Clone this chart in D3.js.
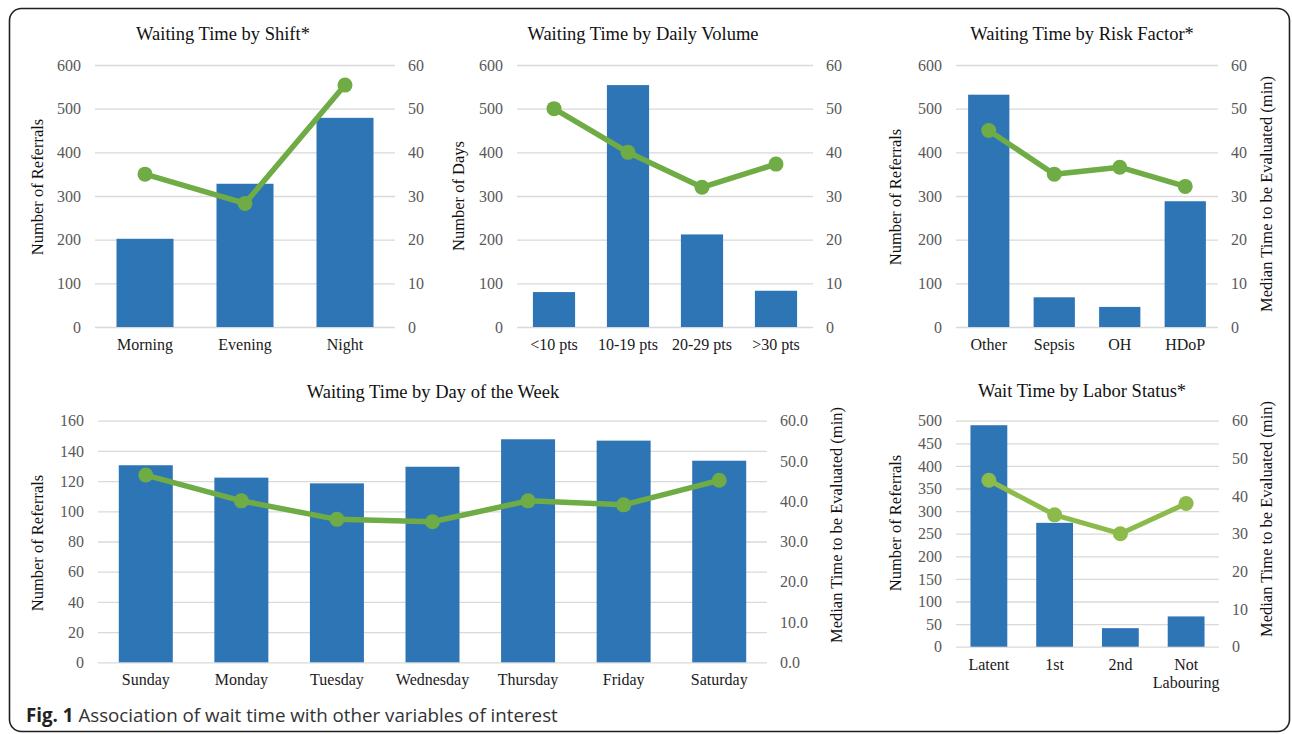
<!DOCTYPE html>
<html><head><meta charset="utf-8">
<script src="https://cdn.jsdelivr.net/npm/d3@7"></script>
<style>
html,body{margin:0;padding:0;background:#fff;}
svg{display:block;}
</style></head>
<body>
<svg id="c" width="1292" height="734"></svg>
<script>
// ---- data ----
const shiftCats = ["Morning","Evening","Night"];
const shiftCounts = [202, 328, 479];
const shiftMedian = [35, 28.3, 55.4];

const volumeCats = ["<10 pts","10-19 pts","20-29 pts",">30 pts"];
const volumeDays = [80, 554, 212, 83];
const volumeMedian = [50, 40, 32, 37.3];

const riskCats = ["Other","Sepsis","OH","HDoP"];
const riskCounts = [532, 68, 46, 288];
const riskMedian = [45, 35, 36.6, 32.2];

const dayCats = ["Sunday","Monday","Tuesday","Wednesday","Thursday","Friday","Saturday"];
const dayCounts = [130.5, 122.3, 118.5, 129.5, 147.7, 146.8, 133.5];
const dayMedian = [46.5, 40.1, 35.5, 34.9, 40.1, 39.1, 45.2];

const laborCats = [["Latent"],["1st"],["2nd"],["Not","Labouring"]];
const laborCounts = [490, 274, 41, 67];
const laborMedian = [44.2, 35, 30, 38];

const leftTicks600 = [0,100,200,300,400,500,600];
const rightTicks60 = [0,10,20,30,40,50,60];
const leftTicks160 = [0,20,40,60,80,100,120,140,160];
const leftTicks500 = [0,50,100,150,200,250,300,350,400,450,500];

// ---- styles ----
const BAR = "#2e75b6", LINE = "#6fac46", LINE2 = "#8cbb4c";
const SERIF = "'Liberation Serif','Times New Roman',serif";
const svg = d3.select("#c");

svg.append("rect").attr("x",9.5).attr("y",8.5).attr("width",1280).attr("height",723)
  .attr("rx",12).attr("fill","none").attr("stroke","#231f20").attr("stroke-width",1.6);

function panel(o){
  const g = svg.append("g");
  const n = o.cats.length;
  const x = d3.scaleBand().domain(d3.range(n)).range([o.x0,o.x1])
      .paddingInner(o.pad).paddingOuter(o.pad/2);
  const yL = d3.scaleLinear().domain([0,o.lMax]).range([o.yB,o.yT]);
  const yR = d3.scaleLinear().domain([0,o.rMax]).range([o.yB,o.yT]);

  // gridlines + left ticks
  const ax = d3.axisLeft(yL).tickValues(o.lTicks).tickSize(-(o.x1-o.x0)).tickPadding(14);
  const ga = g.append("g").attr("transform",`translate(${o.x0},0)`).call(ax);
  ga.select(".domain").remove();
  ga.selectAll("line").attr("stroke","#d9d9d9").attr("stroke-width",1.3);
  ga.selectAll("text").attr("fill","#595959").style("font-family",SERIF).style("font-size","16px");

  // right ticks
  const axr = d3.axisRight(yR).tickValues(o.rTicks).tickSize(0).tickPadding(13)
      .tickFormat(o.rFmt || d3.format("d"));
  const gr = g.append("g").attr("transform",`translate(${o.x1},0)`).call(axr);
  gr.select(".domain").remove();
  gr.selectAll("text").attr("fill","#595959").style("font-family",SERIF).style("font-size","16px");

  // bars
  g.selectAll("rect.bar").data(o.counts).join("rect").attr("class","bar")
    .attr("x",(d,i)=>x(i)).attr("width",x.bandwidth())
    .attr("y",d=>yL(d)).attr("height",d=>yL(0)-yL(d)).attr("fill",BAR);

  // line
  const lc = o.lineColor || LINE;
  const line = d3.line().x((d,i)=>x(i)+x.bandwidth()/2).y(d=>yR(d));
  g.append("path").datum(o.med).attr("d",line).attr("fill","none")
    .attr("stroke",lc).attr("stroke-width",o.lw||5.5).attr("stroke-linejoin","round");
  g.selectAll("circle.m").data(o.med).join("circle").attr("class","m")
    .attr("cx",(d,i)=>x(i)+x.bandwidth()/2).attr("cy",d=>yR(d)).attr("r",7.5).attr("fill",lc);

  // x labels
  const xl = g.selectAll("text.xl").data(o.cats).join("text").attr("class","xl")
    .attr("x",(d,i)=>x(i)+x.bandwidth()/2).attr("y",o.yB+23)
    .attr("text-anchor","middle").style("font-family",SERIF).style("font-size","16px").attr("fill","#1a1a1a");
  xl.each(function(d){
    const lines = Array.isArray(d)?d:[d];
    const t = d3.select(this);
    lines.forEach((s,k)=>t.append("tspan").attr("x",t.attr("x")).attr("dy",k?18:0).text(s));
  });

  // title
  g.append("text").attr("x",o.tx).attr("y",o.ty).attr("text-anchor","middle")
    .style("font-family",SERIF).style("font-size","18.5px").attr("fill","#111").text(o.title);

  // axis labels
  const cy = (o.yT+o.yB)/2;
  if(o.lLab) g.append("text").attr("transform",`translate(${o.lx},${o.lcy||cy}) rotate(-90)`)
    .attr("text-anchor","middle").style("font-family",SERIF).style("font-size","16.5px").attr("fill","#111").text(o.lLab);
  if(o.rLab) g.append("text").attr("transform",`translate(${o.rx},${o.rcy||cy}) rotate(-90)`)
    .attr("text-anchor","middle").style("font-family",SERIF).style("font-size","16.5px").attr("fill","#111").text(o.rLab);
}

const medLab = "Median Time to be Evaluated (min)";

panel({cats:shiftCats,counts:shiftCounts,med:shiftMedian,x0:95,x1:395,yT:65,yB:327,pad:0.43,
  lMax:600,lTicks:leftTicks600,rMax:60,rTicks:rightTicks60,title:"Waiting Time by Shift*",tx:223,ty:40,
  lLab:"Number of Referrals",lx:43,lcy:187});
panel({cats:volumeCats,counts:volumeDays,med:volumeMedian,x0:517,x1:813,yT:65,yB:327,pad:0.43,
  lMax:600,lTicks:leftTicks600,rMax:60,rTicks:rightTicks60,title:"Waiting Time by Daily Volume",tx:643,ty:40,
  lLab:"Number of Days",lx:464,lcy:196});
panel({cats:riskCats,counts:riskCounts,med:riskMedian,x0:956,x1:1218,yT:65,yB:327,pad:0.37,
  lMax:600,lTicks:leftTicks600,rMax:60,rTicks:rightTicks60,title:"Waiting Time by Risk Factor*",tx:1082,ty:40,
  lLab:"Number of Referrals",lx:901,lcy:197,rLab:medLab,rx:1272,rcy:194});
panel({cats:dayCats,counts:dayCounts,med:dayMedian,x0:98,x1:767,yT:420.7,yB:662.3,pad:0.435,
  lMax:160,lTicks:leftTicks160,rMax:60,rTicks:rightTicks60,rFmt:d3.format(".1f"),
  title:"Waiting Time by Day of the Week",tx:433,ty:398,
  lLab:"Number of Referrals",lx:43,lcy:543,rLab:medLab,rx:842,rcy:525});
panel({cats:laborCats,counts:laborCounts,med:laborMedian,x0:956,x1:1219,yT:420.7,yB:646.7,pad:0.44,
  lMax:500,lTicks:leftTicks500,rMax:60,rTicks:rightTicks60,title:"Wait Time by Labor Status*",tx:1082,ty:397,
  lLab:"Number of Referrals",lx:901,lcy:523,rLab:medLab,rx:1272,rcy:519,lineColor:LINE2,lw:5});

// caption
const cap = svg.append("text").attr("x",26).attr("y",722)
  .style("font-family","'Open Sans','Noto Sans',sans-serif").style("font-size","18px").attr("fill","#333");
cap.append("tspan").style("font-weight","bold").attr("fill","#222").text("Fig. 1");
cap.append("tspan").text(" Association of wait time with other variables of interest");
const w = cap.node().getComputedTextLength();
cap.style("font-size", (18*532/w).toFixed(2)+"px");
</script>
</body></html>
